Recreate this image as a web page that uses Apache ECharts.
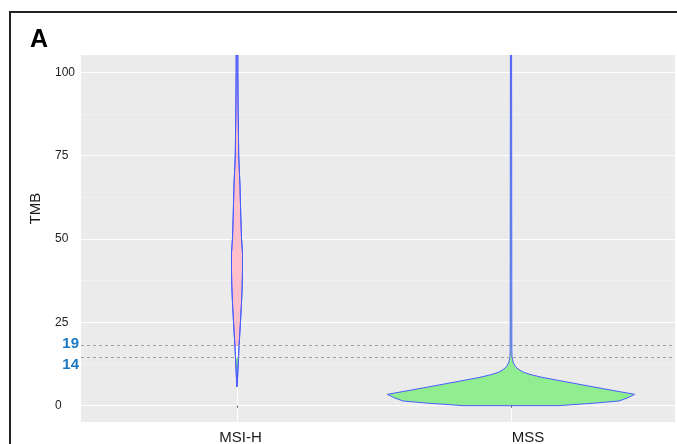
<!DOCTYPE html>
<html>
<head>
<meta charset="utf-8">
<script src="https://cdn.jsdelivr.net/npm/echarts@6/dist/echarts.min.js"></script>
<style>
  html, body { margin: 0; padding: 0; background: #fff; }
  #chart { width: 677px; height: 444px; }
</style>
</head>
<body>
<div id="chart"></div>
<script>
const groups = ['MSI-H', 'MSS'];
const groupPos = [1, 2];

// violin outline: TMB value and half width (in category units)
const msihTmb  = [5.7, 8, 11, 14.4, 18, 22, 25.3, 30.8, 36, 40.7, 45.8, 50.3, 56.7, 65.9, 75.2, 80, 90, 100, 105.2];
const msihHalf = [0.0005, 0.0018, 0.0036, 0.0055, 0.0075, 0.0105, 0.0128, 0.0164, 0.019, 0.0201, 0.0201, 0.0164, 0.0139, 0.011, 0.0062, 0.0055, 0.004, 0.003, 0.003];

const mssTmb  = [0, 0.7, 1.4, 2.4, 3.4, 4.5, 5.7, 7.1, 8.5, 9.3, 10, 10.8, 11.7, 13, 14.7, 17, 105.2];
const mssHalf = [0.172, 0.296, 0.394, 0.427, 0.451, 0.376, 0.296, 0.204, 0.113, 0.073, 0.046, 0.029, 0.016, 0.008, 0.0036, 0.003, 0.0022];

const cutoffValues = [18, 14.4];
const cutoffLabels = ['19', '14'];

const yTicks = [0, 25, 50, 75, 100];
const yMinorTicks = [12.5, 37.5, 62.5, 87.5];

const profiles = [
  { tmb: msihTmb, half: msihHalf },
  { tmb: mssTmb, half: mssHalf }
];

const font = 'Liberation Sans, Arial, sans-serif';
const pink = '#ffc0cb';
const green = '#90ee90';
const outline = '#4a5cff';

function renderViolin(params, api) {
  const p = profiles[params.dataIndex];
  const center = api.value(0);
  const pts = [];
  for (let i = 0; i < p.tmb.length; i++) {
    pts.push(api.coord([center + p.half[i], p.tmb[i]]));
  }
  for (let i = p.tmb.length - 1; i >= 0; i--) {
    pts.push(api.coord([center - p.half[i], p.tmb[i]]));
  }
  let fill = green;
  if (params.dataIndex === 0) {
    // pink above the upper cutoff, white between, green below
    const y1 = api.coord([0, cutoffValues[0]])[1];
    const y2 = api.coord([0, cutoffValues[1]])[1];
    fill = new echarts.graphic.LinearGradient(0, y1, 0, y2, [
      { offset: 0, color: pink },
      { offset: 0, color: '#ffffff' },
      { offset: 1, color: '#ffffff' },
      { offset: 1, color: green }
    ], true);
  }
  return {
    type: 'polygon',
    shape: { points: pts },
    style: { fill: fill, stroke: outline, lineWidth: 1 }
  };
}

const chart = echarts.init(document.getElementById('chart'), null, { renderer: 'canvas' });

const borderRect = {
  id: 'border',
  type: 'rect',
  shape: { x: 10, y: 12, width: 800, height: 600 },
  style: { fill: 'none', stroke: '#222', lineWidth: 2 },
  silent: true
};

chart.setOption({
  animation: false,
  backgroundColor: '#ffffff',
  title: {
    text: 'A',
    left: 30,
    top: 28,
    padding: 0,
    textStyle: { fontFamily: font, fontSize: 25, fontWeight: 'bold', color: '#000' }
  },
  graphic: [borderRect],
  grid: {
    left: 81, right: 2, top: 55, bottom: 22,
    outerBoundsMode: 'none',
    show: true, backgroundColor: '#ebebeb', borderWidth: 0
  },
  xAxis: {
    type: 'value',
    min: 0.4307,
    max: 2.5985,
    axisLine: { show: false },
    axisTick: { show: true, customValues: groupPos, length: 2, lineStyle: { color: '#555', width: 1 } },
    axisLabel: {
      customValues: groupPos,
      margin: 8,
      fontFamily: font,
      fontSize: 15,
      color: '#1a1a1a',
      formatter: function (v) {
        return v === 1 ? '{a|' + groups[0] + '}' : '{b|' + groups[1] + '}';
      },
      rich: {
        a: { fontFamily: font, fontSize: 15, color: '#1a1a1a', padding: [0, 0, 0, 7] },
        b: { fontFamily: font, fontSize: 15, color: '#1a1a1a', padding: [0, 0, 0, 34] }
      }
    },
    splitLine: { show: true, lineStyle: { color: '#ffffff', width: 1 } }
  },
  yAxis: [{
    type: 'value',
    min: -4.9,
    max: 105.2,
    name: 'TMB',
    nameLocation: 'middle',
    nameGap: 38,
    nameTextStyle: { fontFamily: font, fontSize: 15, color: '#1a1a1a', padding: [0, 0, 0, 60] },
    axisLine: { show: false },
    axisTick: { show: false, customValues: yTicks },
    axisLabel: {
      customValues: yTicks,
      align: 'left',
      margin: 26,
      fontFamily: font,
      fontSize: 12,
      color: '#222'
    },
    splitLine: { show: true, lineStyle: { color: '#ffffff', width: 1 } }
  }, {
    type: 'value',
    min: -4.9,
    max: 105.2,
    position: 'left',
    axisLine: { show: false },
    axisTick: { show: false, customValues: yMinorTicks },
    axisLabel: { show: false, customValues: yMinorTicks },
    splitLine: { show: true, lineStyle: { color: '#f5f5f5', width: 0.6 } }
  }],
  series: [{
    type: 'line',
    data: [],
    z: 1,
    markLine: {
      silent: true,
      symbol: ['none', 'none'],
      lineStyle: { color: '#a3a3a3', width: 1, type: [3, 3] },
      label: { show: false },
      data: cutoffValues.map(function (v) { return { yAxis: v }; })
    }
  }, {
    type: 'custom',
    z: 3,
    clip: true,
    renderItem: renderViolin,
    data: groupPos.map(function (x) { return [x]; })
  }]
});

// cutoff labels sit left of the panel, placed via the y axis scale
const labelShift = [-2, 7];
const cutoffTexts = cutoffValues.map(function (v, i) {
  return {
    id: 'cut' + i,
    type: 'text',
    x: 79,
    y: chart.convertToPixel({ yAxisIndex: 0 }, v) + labelShift[i],
    style: {
      text: cutoffLabels[i],
      align: 'right',
      verticalAlign: 'middle',
      fontFamily: font,
      fontSize: 15,
      fontWeight: 'bold',
      fill: '#1b78c2'
    },
    silent: true
  };
});
chart.setOption({ graphic: [borderRect].concat(cutoffTexts) });
</script>
</body>
</html>
